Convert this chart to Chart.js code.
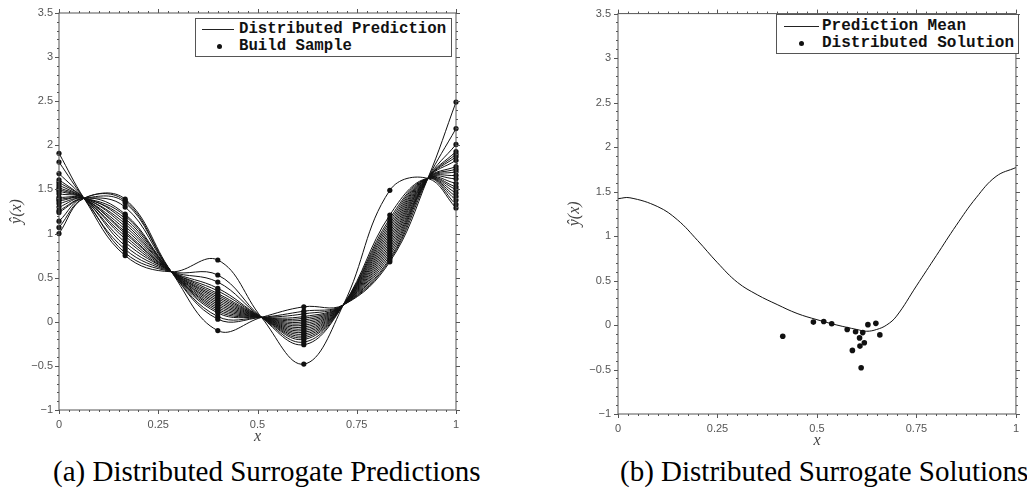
<!DOCTYPE html>
<html lang="en">
<head>
<meta charset="UTF-8">
<title>Distributed Surrogate Predictions and Solutions</title>
<script src="https://cdn.jsdelivr.net/npm/chart.js@4.4.0/dist/chart.umd.min.js"></script>
<style>
    body { margin: 0; background: #fff; width: 1027px; height: 497px; position: relative; overflow: hidden; }
    .box { position: absolute; top: 0; height: 450px; }
    #boxA { left: 0; width: 470px; }
    #boxB { left: 540px; width: 487px; }
    .legend { position: absolute; border: 1.5px solid #555; background: #fff; box-sizing: border-box;
              font-family: "Courier New", "Liberation Mono", monospace; font-weight: bold; color: #111; }
    .legend span { position: absolute; white-space: nowrap; line-height: 17px; }
    .legend .ln { height: 1.2px; background: #222; }
    .legend .dot { width: 5px; height: 5px; border-radius: 50%; background: #111; }
    .caption { position: absolute; top: 455px; font-family: "Liberation Serif", "Times New Roman", serif;
               font-size: 29px; color: #000; white-space: nowrap; }
</style>
</head>
<body>
<div class="box" id="boxA"><canvas id="chartA"></canvas></div>
<div class="box" id="boxB"><canvas id="chartB"></canvas></div>

<div class="legend" style="left:195px; top:18px; width:257px; height:39px; font-size:15.7px;">
    <span class="ln" style="left:6px; top:10px; width:32px;"></span>
    <span style="left:43px; top:2px;">Distributed Prediction</span>
    <span class="dot" style="left:21px; top:24.5px;"></span>
    <span style="left:43px; top:19px;">Build Sample</span>
</div>
<div class="legend" style="left:776px; top:14px; width:243px; height:40px; font-size:16px;">
    <span class="ln" style="left:7px; top:11px; width:35px;"></span>
    <span style="left:45px; top:3px;">Prediction Mean</span>
    <span class="dot" style="left:22px; top:26px;"></span>
    <span style="left:45px; top:20px;">Distributed Solution</span>
</div>

<div class="caption" style="left:53px;">(a) Distributed Surrogate Predictions</div>
<div class="caption" style="left:620px;">(b) Distributed Surrogate Solutions</div>

<script>
    // x positions of the build samples and of the points every prediction passes through
    const sampleX = [0, 1 / 6, 0.4, 0.6167, 0.8333, 1];
    const knotX = [0.063, 0.283, 0.51, 0.716, 0.929];
    const knotY = [1.40, 0.567, 0.05, 0.19, 1.625];

    // build sample values, one entry per prediction curve, at each sample x
    const at0 = [1.91, 1.68, 1.81, 1.58, 1.61, 1.52, 1.55, 1.45, 1.50, 1.48, 1.37, 1.41, 1.30, 1.39, 1.34, 1.14, 1.26, 1.24, 1.00, 1.07];
    const at1 = [0.75, 0.78, 0.82, 0.86, 0.90, 0.94, 0.97, 1.00, 1.02, 1.05, 1.08, 1.11, 1.14, 1.17, 1.20, 1.22, 1.30, 1.35, 1.37, 1.39];
    const at2 = [0.70, 0.53, 0.45, 0.38, 0.32, 0.35, 0.30, 0.26, 0.28, 0.24, 0.20, 0.22, 0.18, 0.14, 0.16, 0.12, 0.10, 0.06, 0.03, -0.10];
    const at3 = [-0.48, -0.26, -0.23, -0.20, -0.16, -0.18, -0.14, -0.10, -0.12, -0.08, -0.04, -0.06, -0.02, 0.02, 0.00, 0.04, 0.06, 0.09, 0.12, 0.17];
    const at4 = [1.49, 1.21, 1.17, 1.14, 1.08, 1.11, 1.05, 0.99, 1.02, 0.96, 0.90, 0.93, 0.87, 0.81, 0.84, 0.78, 0.75, 0.72, 0.70, 0.68];
    const at5 = [1.29, 1.33, 1.38, 1.42, 1.50, 1.46, 1.53, 1.62, 1.57, 1.66, 1.73, 1.70, 1.76, 1.87, 1.83, 1.90, 1.93, 2.01, 2.19, 2.49];
    const sampleCols = [at0, at1, at2, at3, at4, at5];

    // prediction mean (panel b)
    const meanX = [0, 0.03, 0.1, 0.15, 0.2, 0.25, 0.3, 0.35, 0.4, 0.45, 0.5, 0.55, 0.6, 0.625, 0.65, 0.675, 0.7, 0.75, 0.8, 0.85, 0.9, 0.95, 1];
    const meanY = [1.42, 1.43, 1.33, 1.18, 0.95, 0.70, 0.48, 0.34, 0.23, 0.13, 0.06, 0.00, -0.05, -0.07, -0.05, 0.00, 0.10, 0.44, 0.78, 1.12, 1.43, 1.67, 1.77];

    // distributed solutions (panel b)
    const solX = [0.414, 0.491, 0.517, 0.537, 0.576, 0.589, 0.597, 0.607, 0.608, 0.611, 0.615, 0.619, 0.628, 0.648, 0.658];
    const solY = [-0.126, 0.033, 0.04, 0.015, -0.05, -0.285, -0.075, -0.145, -0.237, -0.48, -0.085, -0.20, 0.004, 0.019, -0.111];

    const INK = '#111';
    const AXIS = '#555';

    const fmt = v => {
        const s = String(Math.round(v * 100) / 100);
        return s.replace('-', '\u2212');
    };

    // box around the plot with outward major and minor ticks on all four sides
    const framePlugin = {
        id: 'frame',
        afterDatasetsDraw(chart) {
            const { ctx, chartArea: a, scales: { x, y } } = chart;
            ctx.save();
            ctx.strokeStyle = AXIS;
            ctx.lineWidth = 1;
            ctx.strokeRect(a.left, a.top, a.right - a.left, a.bottom - a.top);
            ctx.beginPath();
            for (let i = 0; i <= 40; i++) {
                const px = Math.round(x.getPixelForValue(i * 0.025)) + 0.5;
                const len = i % 10 === 0 ? 4 : 2;
                ctx.moveTo(px, a.bottom); ctx.lineTo(px, a.bottom + len);
                ctx.moveTo(px, a.top); ctx.lineTo(px, a.top - len);
            }
            for (let i = -10; i <= 35; i++) {
                const py = Math.round(y.getPixelForValue(i / 10)) + 0.5;
                const len = i % 5 === 0 ? 4 : 2;
                ctx.moveTo(a.left, py); ctx.lineTo(a.left - len, py);
                ctx.moveTo(a.right, py); ctx.lineTo(a.right + len, py);
            }
            ctx.stroke();
            ctx.restore();
        }
    };

    function makeOptions(cfg) {
        return {
            responsive: true,
            maintainAspectRatio: false,
            animation: false,
            layout: { padding: { left: 0, top: cfg.padTop, right: cfg.padRight, bottom: 0 } },
            plugins: { legend: { display: false }, tooltip: { enabled: false } },
            scales: {
                x: {
                    type: 'linear', min: 0, max: 1,
                    grid: { display: false, drawTicks: false },
                    border: { display: false },
                    ticks: { stepSize: 0.25, padding: cfg.xTickPad, color: AXIS, callback: fmt,
                             font: { family: 'Liberation Sans, Arial, sans-serif', size: 11 } },
                    title: { display: true, text: 'x', color: '#444',
                             font: { family: 'Liberation Serif, serif', style: 'italic', size: 16 },
                             padding: { top: 0, bottom: cfg.xTitlePad } },
                    afterFit: s => { s.height = cfg.xHeight; }
                },
                y: {
                    type: 'linear', min: -1, max: 3.5,
                    grid: { display: false, drawTicks: false },
                    border: { display: false },
                    ticks: { stepSize: 0.5, padding: cfg.yTickPad, color: AXIS, callback: fmt,
                             font: { family: 'Liberation Sans, Arial, sans-serif', size: 11 } },
                    title: { display: true, text: '\u0177(x)', color: '#444',
                             font: { family: 'Liberation Serif, serif', style: 'italic', size: 16 },
                             padding: { top: cfg.yTitlePad, bottom: 0 } },
                    afterFit: s => { s.width = cfg.yWidth; }
                }
            }
        };
    }

    // panel (a): one line per prediction, through its build samples and the shared knots
    const predictionSets = at0.map((_, i) => {
        const pts = [];
        sampleX.forEach((sx, k) => {
            pts.push({ x: sx, y: sampleCols[k][i] });
            if (k < knotX.length) pts.push({ x: knotX[k], y: knotY[k] });
        });
        return {
            label: i === 0 ? 'Distributed Prediction' : '',
            data: pts,
            showLine: true,
            tension: 0.4,
            borderColor: INK,
            borderWidth: 1,
            pointRadius: 0
        };
    });

    const buildPts = [];
    sampleX.forEach((sx, k) => sampleCols[k].forEach(v => buildPts.push({ x: sx, y: v })));

    new Chart(document.getElementById('chartA'), {
        type: 'scatter',
        data: {
            datasets: [...predictionSets, {
                label: 'Build Sample',
                data: buildPts,
                clip: false,
                pointRadius: 2.6,
                pointBackgroundColor: INK,
                pointBorderWidth: 0
            }]
        },
        options: makeOptions({ padTop: 13, padRight: 14, xHeight: 40, yWidth: 59,
                               xTickPad: 8, yTickPad: 6, xTitlePad: 4, yTitlePad: 7 }),
        plugins: [framePlugin]
    });

    new Chart(document.getElementById('chartB'), {
        type: 'scatter',
        data: {
            datasets: [{
                label: 'Prediction Mean',
                data: meanX.map((x, i) => ({ x, y: meanY[i] })),
                showLine: true,
                tension: 0.4,
                borderColor: INK,
                borderWidth: 1,
                pointRadius: 0
            }, {
                label: 'Distributed Solution',
                data: solX.map((x, i) => ({ x, y: solY[i] })),
                pointRadius: 2.8,
                pointBackgroundColor: INK,
                pointBorderWidth: 0
            }]
        },
        options: makeOptions({ padTop: 9, padRight: 4, xHeight: 36, yWidth: 78,
                               xTickPad: 8, yTickPad: 7, xTitlePad: 0, yTitlePad: 25 }),
        plugins: [framePlugin]
    });
</script>
</body>
</html>
